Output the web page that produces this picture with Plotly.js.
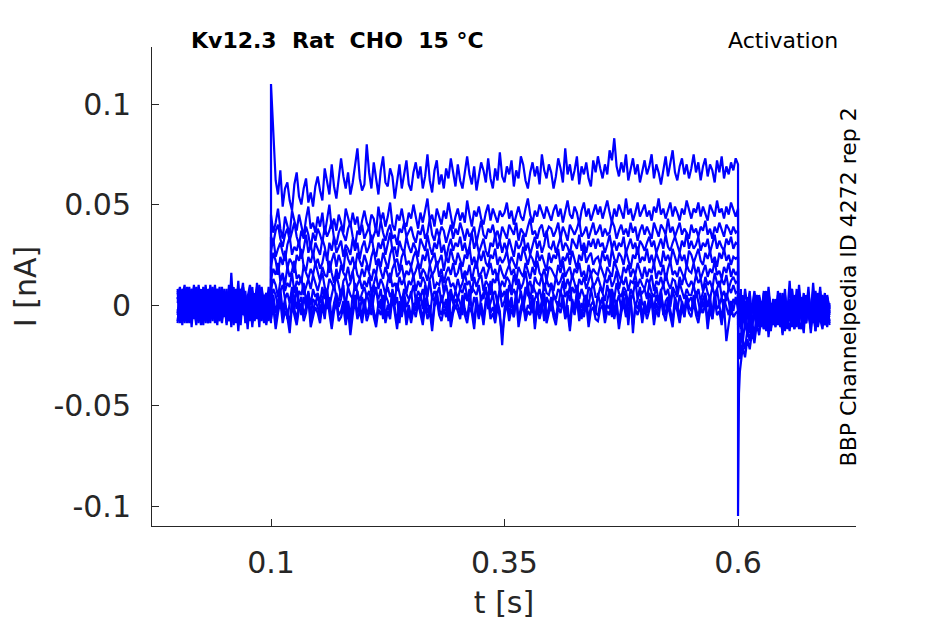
<!DOCTYPE html>
<html>
<head>
<meta charset="utf-8">
<script src="https://cdn.plot.ly/plotly-3.0.1.min.js"></script>
<style>html,body{margin:0;padding:0;background:#fff;}#chart{width:945px;height:624px;}</style>
</head>
<body>
<div id="chart"></div>
<script>
// ---- data: current, in pA (plotted in nA) ----
// segment boundaries (s)
const tStart = 0.0, tOn = 0.1, tOff = 0.6, tEnd = 0.698;
const tTailStart = [0.6, 0.6005, 0.601, 0.602, 0.603, 0.604];   // fine sampling at the tail spike

const prePA = [
  [4,-6,8,-3,2,-9,5,1,-7,10,-2,-5,6,-8,3,9,-4,-1,7,-6,2,-10,5,0,-4,8,-7,3,11,-5,1,-8,6,-2,9,-6,-1,4,-9,7,2],
  [-5,7,-2,-9,4,0,-6,9,-3,5,-10,3,8,-1,-7,2,6,-8,4,-2,5,-6,10,-3,1,-9,6,-4,8,0,-7,3,-11,5,2,-5,9,-1,-8,4,-3],
  [8,-3,-8,5,-1,9,-6,3,7,-9,1,-4,10,-5,2,-7,5,8,-3,-9,1,6,-5,2,9,-8,0,-3,7,-6,4,10,-2,-7,3,-4,8,-9,1,5,-6],
  [-8,2,6,-4,9,-7,3,-1,-10,6,4,-6,1,8,-9,5,-2,3,-5,9,-4,0,7,-8,2,-3,12,-6,4,-1,-9,6,3,-5,0,8,-7,2,-4,6,-1],
  [3,9,-7,1,-5,6,-9,7,2,-3,8,-8,-2,5,9,-6,1,-10,6,-1,7,-4,3,-9,5,1,-6,8,-3,2,-12,4,7,-5,-1,9,-8,3,6,-2,4],
  [-2,-9,4,10,-6,2,8,-5,-1,4,-7,9,-3,-9,6,-2,10,-4,-8,3,-6,5,-1,7,-10,2,4,-5,9,-3,-7,1,6,-4,11,-8,0,5,-6,3,-9],
  [6,-4,1,-7,8,-2,-5,10,-8,0,5,-3,-9,7,-4,8,-6,2,9,-7,3,-2,6,-11,4,-5,1,8,-3,-6,5,-1,9,-8,2,-4,7,-2,-10,6,0],
  [-9,5,-1,7,-3,-8,6,-4,9,-6,-1,7,-5,3,-2,-8,4,-5,1,6,-3,8,-7,2,-4,5,-13,3,-1,7,-6,4,-9,2,8,-3,-7,5,-2,9,-5],
  [1,8,-10,3,6,-4,-2,5,-9,8,-5,1,4,-6,10,-3,-7,6,-2,-5,8,-1,-8,4,7,-6,2,-3,9,-9,3,-5,1,6,-7,10,-4,-1,5,-8,2],
  [-4,3,7,-8,0,5,-11,4,-3,9,-6,2,-1,-9,5,7,-4,0,-7,3,6,-9,1,-5,8,-2,4,-10,6,0,-4,9,-6,3,-2,-8,5,1,-6,4,-7],
  [7,-1,-6,4,-9,2,8,-7,3,-4,6,-10,9,-2,-5,4,-9,8,1,-6,-3,5,-8,16,-4,-1,-7,6,-5,2,-9,7,-3,-6,4,-11,8,-2,3,-7,6]
];

const stepPA = [
  [110,86,62,55,67,49,58,61,52,47,60,66,54,50,58,63,51,56,49,59,
   64,57,52,68,61,55,70,59,53,62,73,64,58,66,55,61,69,78,63,57,
   60,80,66,58,71,63,55,67,74,61,59,68,64,53,62,70,58,65,72,60,
   57,66,71,63,69,58,64,75,62,56,67,72,60,65,58,68,63,73,66,59,
   70,62,58,66,74,65,60,69,57,64,71,67,61,73,63,58,68,62,76,64,
   61,69,65,72,59,67,63,74,70,62,58,66,71,64,69,60,75,67,63,70,
   66,58,64,73,68,61,78,65,70,62,67,74,60,69,65,71,63,59,72,66,
   74,68,63,70,65,77,72,83,69,64,71,66,75,62,68,73,65,70,61,67,
   72,65,69,75,63,70,66,60,68,74,64,71,77,66,62,69,73,65,70,63,
   68,75,66,71,62,69,73,64,70,67,61,72,66,74,63,69,65,71,67,73,70],
  [45,36,41,48,38,33,44,40,35,47,42,37,45,39,34,43,49,38,41,36,
   44,39,46,35,42,50,38,43,37,45,41,36,48,43,39,46,40,44,35,42,
   47,41,38,45,43,36,49,42,46,39,44,51,40,37,45,42,48,41,39,46,
   43,50,44,38,46,41,47,53,42,45,39,48,44,40,47,43,51,45,38,44,
   48,42,46,41,52,45,39,47,44,49,43,40,46,50,42,48,45,41,47,44,
   46,51,43,47,40,45,49,44,42,48,53,45,41,47,44,50,46,43,49,45,
   42,47,50,44,48,41,46,52,45,43,49,46,40,47,51,44,48,42,46,50,
   45,49,43,47,52,46,41,48,44,50,47,43,53,45,48,42,46,51,44,47,
   50,44,47,42,49,46,53,45,48,43,47,51,44,49,46,42,48,45,52,47,
   43,48,46,51,44,49,45,42,50,47,44,52,46,48,43,49,45,51,47,44,48],
  [34,31,37,40,33,29,35,38,32,36,41,34,30,37,33,39,35,28,36,32,
   38,35,31,39,34,37,42,33,30,36,39,35,32,38,41,34,29,37,35,40,
   33,36,39,31,35,38,34,42,36,32,37,40,33,35,30,38,36,41,34,37,
   39,34,31,37,35,40,33,36,43,35,32,38,34,39,37,31,36,40,33,38,
   35,41,37,32,38,34,36,39,31,37,42,35,33,38,36,40,34,37,32,39,
   36,33,40,37,35,41,32,38,36,34,39,43,35,37,33,38,40,34,36,39,
   38,34,37,41,33,39,36,32,40,37,35,38,42,34,36,39,33,37,41,35,
   37,40,34,38,35,36,42,39,33,37,40,35,38,34,41,36,39,32,37,40,
   35,39,36,33,41,37,34,40,38,35,43,36,39,34,37,41,35,38,36,33,
   40,36,38,34,39,37,42,35,38,33,39,36,41,37,34,40,38,35,39,36,37],
  [27,33,24,28,31,26,22,30,34,25,29,27,32,23,28,35,26,30,24,31,
   28,25,33,29,22,31,27,34,26,29,32,24,30,28,25,33,27,31,23,29,
   32,26,29,35,27,24,31,28,33,25,30,36,27,29,24,32,28,26,34,29,
   26,31,28,24,33,30,27,35,29,25,31,28,34,26,30,23,29,33,27,31,
   29,34,27,31,25,29,36,28,32,26,30,33,27,24,31,29,35,28,32,26,
   31,27,33,29,24,32,28,30,35,27,31,25,29,34,28,32,26,30,37,29,
   28,32,26,30,34,27,31,29,25,33,30,28,35,27,31,26,32,29,33,28,
   33,29,31,26,30,35,28,32,27,31,29,34,26,30,33,28,31,25,32,30,
   27,31,34,29,32,26,30,33,28,35,29,27,31,34,30,26,32,29,36,28,
   32,28,30,34,27,31,29,33,26,30,35,28,32,29,27,33,30,34,28,31,30],
  [19,26,22,15,24,20,27,18,23,21,16,25,22,28,19,17,24,21,26,20,
   23,18,21,27,24,16,22,26,19,25,21,17,28,23,20,24,18,26,22,19,
   25,21,17,24,28,20,23,19,26,22,18,25,29,21,23,17,24,27,20,22,
   19,24,27,21,18,25,22,28,20,23,26,19,22,25,17,24,21,28,23,20,
   26,22,19,25,23,29,20,24,18,26,22,27,21,19,25,23,28,20,24,21,
   23,27,20,24,21,18,26,22,29,24,20,25,23,19,27,22,25,21,17,26,
   21,25,23,28,19,24,22,26,20,27,23,18,25,22,29,21,24,26,20,23,
   24,20,27,22,25,19,28,23,21,26,24,20,27,22,18,25,23,29,21,24,
   22,28,21,25,20,26,23,19,27,22,25,21,28,24,20,26,22,25,19,27,
   25,21,24,28,22,20,26,23,27,21,24,19,26,23,28,22,25,20,24,23,24],
  [13,18,15,21,12,16,10,19,14,17,22,13,15,11,20,16,13,18,15,21,
   17,12,19,15,14,22,16,11,18,13,20,16,14,19,12,17,21,15,13,18,
   14,20,16,12,18,15,23,17,13,19,15,11,18,21,14,16,20,13,17,15,
   19,14,17,21,13,18,16,12,20,15,17,22,14,18,11,16,19,15,21,14,
   16,21,13,17,15,20,12,18,22,14,16,19,13,17,21,15,18,12,20,16,
   13,17,20,15,18,12,19,16,14,21,17,13,19,15,22,16,14,18,12,19,
   18,15,13,20,16,22,14,17,19,13,18,16,21,14,17,12,20,15,18,16,
   15,20,17,13,19,16,14,22,18,15,12,19,16,20,14,18,15,21,17,13,
   19,14,18,16,21,13,17,15,20,12,18,22,15,17,14,19,16,13,20,17,
   16,21,15,19,13,17,20,14,18,16,22,15,17,13,19,16,21,14,18,15,17],
  [8,13,10,4,12,15,7,11,9,16,6,12,10,14,5,9,13,8,15,11,
   7,12,16,9,6,13,11,8,15,10,4,12,14,9,11,17,7,10,13,8,
   12,9,14,6,11,15,8,13,10,5,12,16,9,11,7,14,10,13,6,12,
   10,15,7,12,9,14,11,4,13,16,8,11,10,15,6,12,14,9,11,7,
   13,8,11,16,10,12,6,14,9,13,15,7,12,10,5,13,11,16,8,12,
   9,14,12,7,15,10,13,8,11,17,9,12,6,14,11,10,15,7,13,9,
   11,7,14,10,12,16,8,13,9,15,11,6,13,10,14,8,12,16,9,11,
   14,10,6,13,11,15,9,12,17,8,13,10,14,7,12,11,15,9,13,10,
   8,13,11,15,7,12,10,14,9,16,11,8,13,12,6,14,10,15,11,9,
   12,9,15,11,13,7,14,10,12,8,16,11,9,13,10,15,8,12,14,11,12],
  [2,8,5,-1,7,10,3,6,1,9,4,-2,7,5,11,2,6,0,8,4,
   6,1,9,3,7,-1,5,10,4,2,8,6,0,9,5,3,11,7,2,6,
   9,4,7,1,10,6,3,8,-2,5,9,4,7,2,11,6,1,8,5,3,
   5,10,2,7,4,8,0,6,12,3,7,5,9,1,6,10,4,8,2,7,
   3,8,6,11,4,1,9,7,5,10,2,6,8,3,12,5,7,0,9,4,
   7,2,10,5,8,4,11,6,1,9,5,3,10,7,4,8,2,11,6,5,
   10,5,3,8,6,12,4,7,2,9,6,10,3,8,5,1,9,7,11,4,
   4,9,6,2,10,5,8,3,11,6,4,9,7,0,8,5,12,3,7,6,
   8,3,11,6,4,9,2,7,10,5,8,1,9,6,4,11,7,3,8,5,
   5,10,4,8,2,7,11,6,3,9,5,8,12,4,7,2,9,6,10,6,7],
  [-1,5,-4,2,8,-3,3,-7,1,6,-2,9,0,-5,4,-1,7,-6,3,1,
   5,-3,2,8,-2,4,-8,1,6,-1,3,10,-4,2,-6,5,0,7,-3,4,
   -2,6,1,-5,4,9,-1,3,-7,5,2,-3,8,0,4,-9,3,6,-1,2,
   7,-4,3,0,5,-2,10,1,-6,4,2,7,-3,5,-1,3,-8,6,1,-2,
   4,1,-5,6,2,8,-3,4,0,-7,5,3,9,-2,1,6,-4,3,7,-1,
   2,8,-1,4,-6,3,1,7,-2,5,11,0,-4,3,6,-3,2,-8,4,1,
   -3,5,2,-1,7,3,-5,4,9,0,-2,6,1,-7,3,5,-1,8,2,-4,
   6,0,4,-3,2,8,-6,3,1,5,-2,7,4,-10,2,6,-1,3,9,0,
   1,-4,6,3,-2,5,0,8,-5,2,4,-1,7,3,-3,5,1,-6,4,2,
   4,-2,7,1,-4,3,6,-1,5,-7,2,8,0,4,-3,6,2,-5,3,1,2],
  [-4,2,-9,-1,5,-6,0,-3,-10,3,-2,-7,1,4,-5,-1,6,-8,-3,2,
   -1,-6,3,-4,7,-2,-9,0,4,-5,-3,2,-7,1,-11,-2,5,-4,0,-6,
   3,-5,-1,6,-3,-8,1,-2,5,-6,0,-4,7,-1,-9,2,-3,4,-7,0,
   -6,1,-3,4,-1,-7,3,-4,0,-10,2,6,-2,-5,1,-3,5,-8,-1,3,
   0,-4,5,-2,-6,2,-1,-9,4,-3,1,-7,3,6,-4,-1,-6,2,-3,-20,
   -2,4,-5,1,-3,7,-8,-1,3,-5,0,-2,5,-9,2,-4,1,6,-6,-1,
   4,-3,-7,2,-1,5,-4,0,-11,3,-2,6,-5,1,-3,4,-8,0,2,-4,
   -5,1,3,-6,0,-2,7,-4,2,-9,-1,4,-3,0,5,-14,1,-2,3,-6,
   2,-4,0,5,-7,1,-3,6,-1,-5,3,-2,-8,4,0,-6,2,-3,5,-1,
   -3,5,-2,-6,2,-1,4,-9,1,-4,6,-2,0,-7,3,-1,-5,2,-3,4,-1],
  [-7,-1,-12,-4,2,-9,-3,-6,-14,0,-5,-10,-2,1,-8,-4,3,-11,-6,-1,
   -4,-9,0,-7,4,-5,-12,-3,1,-8,-6,-1,-10,-2,-15,-5,2,-7,-3,-9,
   0,-8,-4,3,-6,-11,-2,-5,2,-9,-3,-7,4,-4,-12,-1,-6,1,-10,-3,
   -9,-2,-6,1,-4,-10,0,-7,-3,-13,-1,3,-5,-8,-2,-6,2,-11,-4,0,
   -3,-7,2,-5,-9,-1,-4,-12,1,-6,-2,-10,0,3,-7,-4,-9,-1,-6,-15,
   -5,1,-8,-2,-6,4,-11,-4,0,-8,-3,-5,2,-12,-1,-7,-2,3,-9,-4,
   1,-6,-10,-1,-4,2,-7,-3,-13,0,-5,3,-8,-2,-6,1,-11,-3,-1,-7,
   -8,-2,0,-9,-3,-5,4,-7,-1,-12,-4,1,-6,-3,2,-10,-2,-5,0,-9,
   -1,-7,-3,2,-10,-2,-6,3,-4,-8,0,-5,-11,1,-3,-9,-1,-6,2,-4,
   -6,2,-5,-9,-1,-4,1,-12,-2,-7,3,-5,-3,-10,0,-18,-8,-1,-6,-4,-3]
];

const postPA = [
  [-105,-62,-44,-33,-28,-24,-21,-26,-17,-22,-13,-19,-9,-15,-6,-12,-3,-9,1,-7,-11,-2,-8,4,-5,-12,0,-7,3,-9,-4,-1,-10,5,-6,-2,-8,2,-11,-4,1,-7,-3,-6],
  [-16,-24,-19,-27,-20,-23,-17,-22,-12,-18,-9,-14,-5,-11,-2,-8,3,-6,-12,0,-9,5,-4,-10,2,-7,-13,1,-5,8,-8,-3,-11,4,-6,0,-9,-2,6,-7,-12,-1,3,-5],
  [-12,-18,-14,-21,-16,-11,-19,-8,-15,-4,-12,-17,-6,1,-10,-3,-13,4,-7,-1,-9,7,-5,-14,0,-6,3,-10,-2,5,-8,-12,1,-4,9,-7,-2,-11,2,-5,-9,4,-3,-8],
  [-4,-9,2,-6,-12,-1,5,-8,-3,-14,0,-6,3,-10,-4,7,-7,-1,-12,2,-5,-9,4,-2,-13,1,-6,8,-4,-10,0,-3,6,-8,-1,-11,3,-5,-2,9,-7,-4,1,-9],
  [3,-5,-10,1,-7,4,-3,-11,-1,6,-8,-4,-13,2,-6,0,-9,5,-2,-7,3,-10,-1,-5,8,-8,-3,1,-12,-4,4,-6,-1,-9,2,-14,-2,6,-5,0,-8,3,-4,-10],
  [-7,0,6,-3,-9,2,-5,8,-2,-10,1,-6,-3,4,-11,-1,7,-7,-4,0,-9,3,-2,-15,5,-6,-1,2,-8,-4,10,-3,-7,1,-5,-12,4,-2,-6,7,-9,-1,2,-4],
  [1,-8,-3,5,-11,-2,3,-6,-14,0,-4,6,-9,-2,2,-7,-5,9,-3,-10,1,-6,4,-8,-1,-4,12,-7,-2,-11,3,-5,0,-9,6,-3,-1,-13,2,-6,5,-2,-8,0],
  [-10,-2,4,-7,1,-5,-9,2,-4,7,-12,-1,5,-6,-3,1,-10,6,-2,-8,3,-5,-11,0,4,-7,-3,8,-9,-1,2,-6,-14,3,-4,-1,7,-8,-5,1,-3,-10,4,-2],
  [6,-4,-9,0,3,-13,-2,-6,4,-8,1,-3,-11,5,-1,-7,2,-16,-4,3,-6,0,-9,6,-3,-1,-8,4,-12,-2,5,-5,-1,-9,3,-6,11,-4,-7,0,-2,-10,5,-3],
  [-2,5,-7,-3,8,-5,0,-10,3,-4,-1,7,-8,-5,2,-12,-3,4,-6,1,-9,-2,6,-4,-7,2,-1,-11,5,-5,-3,1,-8,4,-2,-6,0,-13,3,-5,-1,6,-7,-3],
  [-6,-1,-11,2,-4,-8,4,-3,-7,1,-10,-5,3,-2,-9,6,-6,-1,-13,2,-4,-8,5,-3,0,-10,-5,3,-7,-1,-12,4,-2,-6,1,-9,-4,7,-3,-8,2,-5,-11,1]
];

const xTickVals = [0.1, 0.35, 0.6];
const xTickText = ['0.1', '0.35', '0.6'];
const yTickVals = [-0.1, -0.05, 0, 0.05, 0.1];
const yTickText = ['-0.1', '-0.05', '0', '0.05', '0.1'];

// ---- sample times for each segment (evenly spaced samples) ----
function evenTimes(a, b, n) { return Array.from({length: n}, (_, k) => a + (b - a) * k / (n - 1)); }
function postTimes(n) {
  const m = n - tTailStart.length;
  return tTailStart.concat(evenTimes(0.605, tEnd, m));
}

const traces = prePA.map((pre, i) => {
  const step = stepPA[i], post = postPA[i];
  const x = evenTimes(tStart, tOn, pre.length)
    .concat(evenTimes(tOn, tOff, step.length), postTimes(post.length));
  const y = pre.concat(step, post).map(v => v / 1000);
  return {
    type: 'scatter', mode: 'lines', x: x, y: y,
    line: {color: '#0000FF', width: 2.2},
    hoverinfo: 'skip', showlegend: false
  };
});

const FONT = 'DejaVu Sans, Liberation Sans, sans-serif';
const TXT = '#262626';

const layout = {
  width: 945, height: 624,
  margin: {l: 152, r: 89, t: 47, b: 98, pad: 0},
  paper_bgcolor: '#ffffff', plot_bgcolor: '#ffffff',
  font: {family: FONT, color: TXT},
  xaxis: {
    range: [-0.0274, 0.7263],
    tickvals: xTickVals, ticktext: xTickText,
    ticks: 'inside', ticklen: 7, tickwidth: 1, tickcolor: TXT,
    showline: true, linecolor: TXT, linewidth: 1,
    showgrid: false, zeroline: false,
    tickfont: {family: FONT, size: 30, color: TXT},
    ticklabelstandoff: 10,
    title: {text: 't [s]', font: {family: FONT, size: 30, color: TXT}, standoff: 12}
  },
  yaxis: {
    range: [-0.10995, 0.1284],
    tickvals: yTickVals, ticktext: yTickText,
    ticks: 'inside', ticklen: 7, tickwidth: 1, tickcolor: TXT,
    showline: true, linecolor: TXT, linewidth: 1,
    showgrid: false, zeroline: false,
    tickfont: {family: FONT, size: 30, color: TXT},
    ticklabelstandoff: 14,
    title: {text: 'I [nA]', font: {family: FONT, size: 30, color: TXT}, standoff: 7}
  },
  annotations: [
    {text: '<b>Kv12.3\u00A0\u00A0Rat\u00A0\u00A0CHO\u00A0\u00A015\u00A0°C</b>', xref: 'paper', yref: 'paper',
     x: 0.264, y: 1.0146, xanchor: 'center', yanchor: 'middle', showarrow: false,
     font: {family: FONT, size: 22, color: '#000000'}},
    {text: 'Activation', xref: 'paper', yref: 'paper',
     x: 0.9773, y: 1.0146, xanchor: 'right', yanchor: 'middle', showarrow: false,
     font: {family: FONT, size: 22, color: '#000000'}},
    {text: 'BBP Channelpedia ID 4272 rep 2', xref: 'paper', yref: 'paper',
     x: 0.990, y: 0.5, xanchor: 'center', yanchor: 'middle', textangle: -90, showarrow: false,
     font: {family: FONT, size: 22, color: '#000000'}}
  ]
};

Plotly.newPlot('chart', traces, layout, {displayModeBar: false, staticPlot: true});
</script>
</body>
</html>
